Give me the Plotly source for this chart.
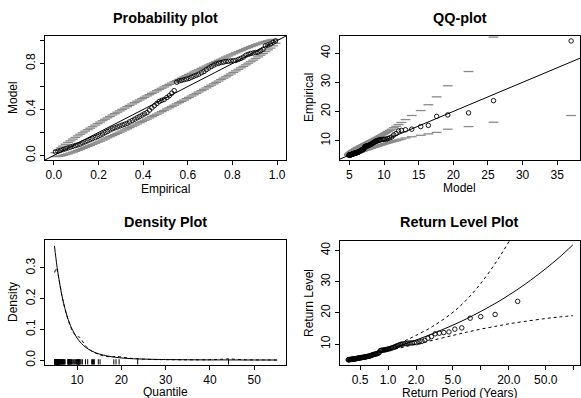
import plotly.graph_objects as go

# ---------------- data ----------------
# sorted sample (ascending) - empirical quantiles
emp_quantile = [
    4.98, 5.00, 5.02, 5.04, 5.06, 5.08, 5.10, 5.12, 5.14, 5.16,
    5.18, 5.21, 5.24, 5.27, 5.30, 5.33, 5.36, 5.39, 5.42, 5.46,
    5.50, 5.54, 5.58, 5.62, 5.65, 5.68, 5.71, 5.74, 5.77, 5.80,
    5.85, 5.90, 5.95, 6.00, 6.05, 6.10, 6.15, 6.20, 6.30, 6.40,
    6.50, 6.60, 6.70, 6.75, 6.80, 6.90, 7.00, 7.15, 7.30, 7.90,
    8.00, 8.05, 8.10, 8.15, 8.20, 8.30, 8.40, 8.50, 8.60, 8.75,
    8.90, 9.10, 9.30, 9.50, 9.70, 9.90, 10.00, 10.10, 10.20, 10.30,
    10.35, 10.40, 10.45, 10.50, 10.70, 10.90, 11.20, 11.90, 12.40, 13.30,
    13.50, 13.70, 13.90, 14.80, 15.20, 18.30, 18.80, 19.50, 23.70, 44.20]

# QQ-plot: model quantiles and confidence dashes
model_quantile = [
    4.93, 4.96, 4.99, 5.02, 5.05, 5.08, 5.12, 5.15, 5.18, 5.22,
    5.25, 5.28, 5.32, 5.36, 5.39, 5.43, 5.47, 5.50, 5.54, 5.58,
    5.62, 5.66, 5.70, 5.75, 5.79, 5.83, 5.88, 5.92, 5.97, 6.02,
    6.07, 6.12, 6.17, 6.22, 6.27, 6.32, 6.38, 6.43, 6.49, 6.55,
    6.61, 6.67, 6.74, 6.80, 6.87, 6.93, 7.00, 7.08, 7.15, 7.23,
    7.31, 7.39, 7.47, 7.56, 7.65, 7.74, 7.83, 7.93, 8.04, 8.14,
    8.26, 8.37, 8.49, 8.62, 8.75, 8.89, 9.04, 9.19, 9.35, 9.52,
    9.70, 9.90, 10.10, 10.33, 10.56, 10.82, 11.10, 11.41, 11.74, 12.10,
    12.50, 13.10, 14.00, 15.30, 16.40, 17.60, 19.20, 22.20, 25.80, 37.00]
qq_ci_upper = [
    5.08, 5.20, 5.30, 5.39, 5.47, 5.55, 5.62, 5.69, 5.76, 5.83,
    5.90, 5.96, 6.03, 6.10, 6.16, 6.22, 6.29, 6.35, 6.41, 6.48,
    6.54, 6.61, 6.67, 6.74, 6.81, 6.87, 6.94, 7.00, 7.07, 7.14,
    7.21, 7.28, 7.35, 7.42, 7.49, 7.56, 7.64, 7.71, 7.79, 7.86,
    7.94, 8.02, 8.10, 8.18, 8.27, 8.35, 8.44, 8.53, 8.62, 8.72,
    8.82, 8.92, 9.02, 9.13, 9.24, 9.35, 9.47, 9.60, 9.72, 9.85,
    10.00, 10.15, 10.30, 10.45, 10.60, 10.80, 11.00, 11.20, 11.40, 11.65,
    11.90, 12.15, 12.45, 12.80, 13.10, 13.50, 13.90, 14.40, 14.90, 15.50,
    16.20, 17.20, 18.60, 20.30, 22.30, 25.00, 28.80, 33.70, 45.50, 75.00]
qq_ci_lower = [
    4.90, 4.91, 4.92, 4.93, 4.95, 4.97, 4.99, 5.01, 5.03, 5.06,
    5.08, 5.11, 5.14, 5.17, 5.20, 5.23, 5.26, 5.29, 5.33, 5.36,
    5.39, 5.43, 5.46, 5.50, 5.53, 5.57, 5.61, 5.65, 5.69, 5.73,
    5.77, 5.81, 5.85, 5.89, 5.94, 5.98, 6.03, 6.08, 6.13, 6.18,
    6.23, 6.28, 6.34, 6.39, 6.45, 6.50, 6.56, 6.62, 6.68, 6.75,
    6.81, 6.87, 6.94, 7.01, 7.08, 7.15, 7.22, 7.30, 7.38, 7.46,
    7.55, 7.63, 7.72, 7.81, 7.91, 8.01, 8.12, 8.23, 8.35, 8.47,
    8.60, 8.75, 8.90, 9.05, 9.20, 9.35, 9.55, 9.75, 9.95, 10.20,
    10.50, 10.90, 11.30, 11.80, 12.30, 12.80, 13.90, 14.80, 16.30, 18.60]

# Probability plot
emp_prob = [
    0.007, 0.018, 0.030, 0.041, 0.052, 0.063, 0.074, 0.085, 0.096, 0.107,
    0.118, 0.129, 0.140, 0.151, 0.162, 0.173, 0.185, 0.196, 0.207, 0.218,
    0.229, 0.240, 0.251, 0.262, 0.273, 0.284, 0.295, 0.306, 0.317, 0.328,
    0.339, 0.351, 0.362, 0.373, 0.384, 0.395, 0.406, 0.417, 0.428, 0.439,
    0.450, 0.461, 0.472, 0.483, 0.494, 0.506, 0.517, 0.528, 0.539, 0.550,
    0.561, 0.572, 0.583, 0.594, 0.605, 0.616, 0.627, 0.638, 0.649, 0.661,
    0.672, 0.683, 0.694, 0.705, 0.716, 0.727, 0.738, 0.749, 0.760, 0.771,
    0.782, 0.793, 0.804, 0.815, 0.827, 0.838, 0.849, 0.860, 0.871, 0.882,
    0.893, 0.904, 0.915, 0.926, 0.937, 0.948, 0.959, 0.970, 0.982, 0.993]
model_prob = [
    0.030, 0.037, 0.044, 0.051, 0.058, 0.065, 0.072, 0.079, 0.086, 0.092,
    0.099, 0.109, 0.119, 0.128, 0.138, 0.147, 0.156, 0.165, 0.175, 0.186,
    0.198, 0.209, 0.221, 0.232, 0.240, 0.248, 0.256, 0.264, 0.271, 0.279,
    0.292, 0.304, 0.316, 0.328, 0.339, 0.351, 0.362, 0.373, 0.394, 0.414,
    0.433, 0.452, 0.470, 0.479, 0.487, 0.504, 0.520, 0.542, 0.564, 0.638,
    0.649, 0.654, 0.660, 0.665, 0.670, 0.680, 0.689, 0.698, 0.707, 0.720,
    0.731, 0.747, 0.761, 0.774, 0.786, 0.797, 0.803, 0.808, 0.813, 0.818,
    0.820, 0.823, 0.825, 0.827, 0.836, 0.845, 0.856, 0.872, 0.880, 0.888,
    0.892, 0.896, 0.900, 0.912, 0.925, 0.955, 0.962, 0.970, 0.985, 0.997]
pp_ci_halfwidth = [
    0.017, 0.027, 0.035, 0.040, 0.045, 0.050, 0.053, 0.057, 0.060, 0.063,
    0.066, 0.068, 0.071, 0.073, 0.075, 0.077, 0.079, 0.081, 0.083, 0.084,
    0.086, 0.087, 0.088, 0.090, 0.091, 0.092, 0.093, 0.094, 0.095, 0.096,
    0.097, 0.097, 0.098, 0.099, 0.099, 0.100, 0.100, 0.101, 0.101, 0.101,
    0.101, 0.102, 0.102, 0.102, 0.102, 0.102, 0.102, 0.102, 0.102, 0.101,
    0.101, 0.101, 0.101, 0.100, 0.100, 0.099, 0.099, 0.098, 0.097, 0.097,
    0.096, 0.095, 0.094, 0.093, 0.092, 0.091, 0.090, 0.088, 0.087, 0.086,
    0.084, 0.083, 0.081, 0.079, 0.077, 0.075, 0.073, 0.071, 0.068, 0.066,
    0.063, 0.060, 0.057, 0.053, 0.050, 0.045, 0.040, 0.035, 0.027, 0.017]
pp_ref = [-0.1, 1.1]
qq_ref = [0.0, 60.0]

# Return level plot
return_period = [
    0.372, 0.376, 0.380, 0.385, 0.389, 0.394, 0.398, 0.403, 0.408, 0.413,
    0.419, 0.424, 0.429, 0.435, 0.441, 0.447, 0.453, 0.459, 0.465, 0.472,
    0.479, 0.486, 0.493, 0.501, 0.508, 0.516, 0.524, 0.533, 0.541, 0.550,
    0.560, 0.569, 0.579, 0.589, 0.600, 0.611, 0.623, 0.634, 0.647, 0.660,
    0.673, 0.687, 0.701, 0.717, 0.732, 0.749, 0.766, 0.784, 0.803, 0.823,
    0.844, 0.866, 0.889, 0.914, 0.940, 0.967, 0.996, 1.027, 1.060, 1.095,
    1.132, 1.172, 1.215, 1.261, 1.311, 1.364, 1.423, 1.487, 1.556, 1.633,
    1.717, 1.811, 1.915, 2.033, 2.165, 2.316, 2.490, 2.692, 2.930, 3.213,
    3.557, 3.984, 4.528, 5.242, 6.225, 7.662, 9.961, 14.23, 24.91, 99.70]
rl_period = [0.37, 0.5, 0.7, 1, 1.5, 2, 3, 5, 7, 10, 15, 20, 30, 50, 70, 98]
rl_model = [4.97, 5.87, 7.02, 8.35, 10.0, 11.3, 13.3, 16.1, 18.1, 20.5, 23.4, 25.7, 29.2, 34.2, 37.8, 41.8]
rl_lower = [4.97, 5.80, 6.80, 7.90, 9.10, 10.0, 11.2, 12.8, 13.8, 14.8, 15.8, 16.5, 17.3, 18.2, 18.7, 19.1]
rl_upper = [4.97, 5.95, 7.25, 8.80, 11.0, 12.8, 15.6, 20.2, 24.2, 29.5, 36.8, 42.8, 52.0, 68.0, 80.0, 95.0]

# Density plot
dens_x = [4.9, 5.2, 5.5, 6.0, 6.5, 7.0, 7.5, 8.0, 8.5, 9.0, 10, 11, 12, 13, 14, 15,
          17, 19, 22, 25, 30, 35, 40, 45, 50, 55.2]
dens_model = [0.372, 0.335, 0.302, 0.256, 0.216, 0.183, 0.155, 0.132, 0.113, 0.097,
              0.072, 0.054, 0.041, 0.032, 0.025, 0.020, 0.013, 0.0085, 0.005, 0.0033,
              0.0018, 0.0011, 0.0007, 0.0005, 0.0004, 0.0003]
kde_x = [4.95, 5.3, 5.7, 6.2, 6.8, 7.4, 8.0, 8.7, 9.4, 10.0, 10.6, 11.2, 12.0, 13.0, 14.0,
         15.0, 16.5, 18.0, 19.0, 20.0, 22.0, 24.0, 27.0, 30.0, 35.0, 40.0, 43.0, 44.2,
         45.5, 48.0, 52.0, 55.2]
kde_y = [0.285, 0.300, 0.280, 0.240, 0.195, 0.160, 0.130, 0.103, 0.085, 0.078, 0.074,
         0.062, 0.045, 0.032, 0.024, 0.018, 0.012, 0.011, 0.012, 0.010, 0.006, 0.004,
         0.002, 0.0015, 0.001, 0.0012, 0.003, 0.004, 0.003, 0.001, 0.0005, 0.0003]

# ---------------- figure ----------------
W, H = 581, 398
FONT = "Liberation Sans, Arial, Helvetica, sans-serif"
CI_COL = "#8a8a8a"


def xd(a, b):
    return [a / W, b / W]


def yd(top, bot):
    return [1 - bot / H, 1 - top / H]


def axis(domain, rng, vals, text, anchor, typ="linear", angle=0):
    return dict(domain=domain, range=rng, type=typ, tickvals=vals, ticktext=text,
                anchor=anchor, showline=True, linecolor="black", linewidth=1,
                mirror=True, ticks="outside", ticklen=4, tickwidth=1,
                tickcolor="black", showgrid=False, zeroline=False, automargin=False,
                tickfont=dict(family=FONT, size=12, color="black"),
                tickangle=angle, fixedrange=True)


fig = go.Figure()

circ = dict(symbol="circle-open", size=4.5, color="black", line=dict(width=0.9, color="black"))
dash = dict(symbol="line-ew", size=7, color=CI_COL, line=dict(width=1.3, color=CI_COL))

# Panel 1: probability plot
pp_upper = [p + h for p, h in zip(emp_prob, pp_ci_halfwidth)]
pp_lower = [p - h for p, h in zip(emp_prob, pp_ci_halfwidth)]
fig.add_trace(go.Scatter(x=emp_prob, y=pp_upper, mode="markers", marker=dash, xaxis="x", yaxis="y"))
fig.add_trace(go.Scatter(x=emp_prob, y=pp_lower, mode="markers", marker=dash, xaxis="x", yaxis="y"))
fig.add_trace(go.Scatter(x=pp_ref, y=pp_ref, mode="lines", line=dict(color="black", width=1), xaxis="x", yaxis="y"))
fig.add_trace(go.Scatter(x=emp_prob, y=model_prob, mode="markers", marker=circ, xaxis="x", yaxis="y"))

# Panel 2: QQ plot
fig.add_trace(go.Scatter(x=qq_ref, y=qq_ref, mode="lines", line=dict(color="black", width=1), xaxis="x2", yaxis="y2"))
fig.add_trace(go.Scatter(x=model_quantile, y=qq_ci_upper, mode="markers", marker=dash, xaxis="x2", yaxis="y2"))
fig.add_trace(go.Scatter(x=model_quantile, y=qq_ci_lower, mode="markers", marker=dash, xaxis="x2", yaxis="y2"))
fig.add_trace(go.Scatter(x=model_quantile, y=emp_quantile, mode="markers", marker=circ, xaxis="x2", yaxis="y2"))

# Panel 3: density plot
dens_range = [-0.0143, 0.391]
fig.add_trace(go.Scatter(x=dens_x, y=dens_model, mode="lines", line=dict(color="black", width=1, shape="spline"), xaxis="x3", yaxis="y3"))
fig.add_trace(go.Scatter(x=kde_x, y=kde_y, mode="lines", line=dict(color="black", width=1, dash="3px,3px", shape="spline"), xaxis="x3", yaxis="y3"))
fig.add_trace(go.Scatter(x=emp_quantile, y=[dens_range[0] / 2] * len(emp_quantile), mode="markers",
                         marker=dict(symbol="line-ns", size=4.4, color="black", line=dict(width=1, color="black")),
                         xaxis="x3", yaxis="y3"))

# Panel 4: return level plot
fig.add_trace(go.Scatter(x=rl_period, y=rl_model, mode="lines", line=dict(color="black", width=1, shape="spline"), xaxis="x4", yaxis="y4"))
fig.add_trace(go.Scatter(x=rl_period, y=rl_upper, mode="lines", line=dict(color="black", width=1, dash="3px,3px", shape="spline"), xaxis="x4", yaxis="y4"))
fig.add_trace(go.Scatter(x=rl_period, y=rl_lower, mode="lines", line=dict(color="black", width=1, dash="3px,3px", shape="spline"), xaxis="x4", yaxis="y4"))
fig.add_trace(go.Scatter(x=return_period, y=emp_quantile, mode="markers", marker=circ, xaxis="x4", yaxis="y4"))

pp_ticks = [0, 0.2, 0.4, 0.6, 0.8, 1.0]
fig.update_layout(
    width=W, height=H, margin=dict(l=0, r=0, t=0, b=0, autoexpand=False),
    paper_bgcolor="white", plot_bgcolor="white", showlegend=False,
    font=dict(family=FONT, size=12, color="black"),
    xaxis=axis(xd(45, 286), [-0.04, 1.04], pp_ticks, ["0.0", "0.2", "0.4", "0.6", "0.8", "1.0"], "y"),
    yaxis=axis(yd(36, 160), [-0.04, 1.04], pp_ticks, ["0.0", "", "0.4", "", "0.8", ""], "x", angle=-90),
    xaxis2=axis(xd(340, 580), [3.65, 38.28], [5, 10, 15, 20, 25, 30, 35], ["5", "10", "15", "20", "25", "30", "35"], "y2"),
    yaxis2=axis(yd(36, 160), [3.32, 45.9], [10, 20, 30, 40], ["10", "20", "30", "40"], "x2", angle=-90),
    xaxis3=axis(xd(45, 286), [2.76, 57.18], [10, 20, 30, 40, 50], ["10", "20", "30", "40", "50"], "y3"),
    yaxis3=axis(yd(240, 364.5), dens_range, [0, 0.1, 0.2, 0.3], ["0.0", "0.1", "0.2", "0.3"], "x3", angle=-90),
    xaxis4=axis(xd(340, 580), [-0.518, 2.068], [0.5, 1, 2, 5, 10, 20, 50, 100],
                ["0.5", "1.0", "2.0", "5.0", "", "20.0", "50.0", ""], "y4", typ="log"),
    yaxis4=axis(yd(240.5, 364.5), [3.47, 43.2], [10, 20, 30, 40], ["10", "20", "30", "40"], "x4", angle=-90),
)


def ann(text, x, y, size=12, bold=False, angle=0):
    fig.add_annotation(text=f"<b>{text}</b>" if bold else text, x=x / W, y=1 - y / H,
                       xref="paper", yref="paper", showarrow=False, textangle=angle,
                       xanchor="center", yanchor="middle",
                       font=dict(family=FONT, size=size, color="black"))


TS = 14.4
ann("Probability plot", 165.5, 18, TS, True)
ann("QQ-plot", 460, 18, TS, True)
ann("Density Plot", 165.5, 222.5, TS, True)
ann("Return Level Plot", 460, 222.5, TS, True)
ann("Empirical", 165.5, 189)
ann("Model", 13, 98, angle=-90)
ann("Model", 460, 188)
ann("Empirical", 309, 98, angle=-90)
ann("Quantile", 165.5, 392)
ann("Density", 13, 302, angle=-90)
ann("Return Period (Years)", 460, 393)
ann("Return Level", 309, 303, angle=-90)

fig.write_html("out.html", config={"displayModeBar": False},
               post_script="document.body.style.margin='0';document.body.style.padding='0';")
